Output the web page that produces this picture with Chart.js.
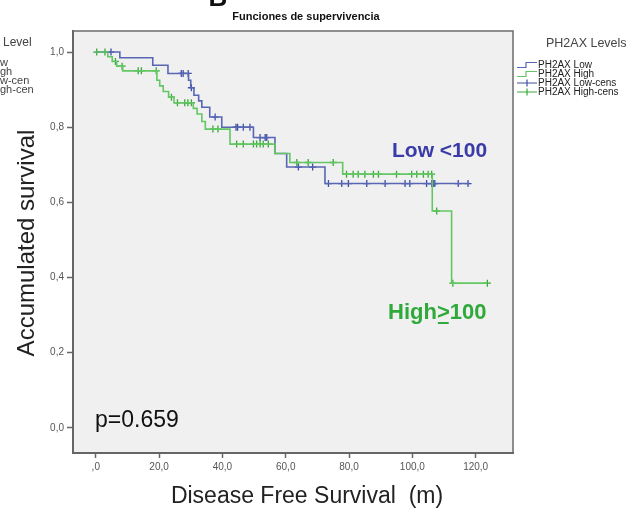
<!DOCTYPE html>
<html>
<head>
<meta charset="utf-8">
<script src="https://cdn.jsdelivr.net/npm/chart.js@4.4.1/dist/chart.umd.min.js"></script>
<style>
  html, body { margin: 0; padding: 0; background: #fff; }
  canvas { display: block; }
</style>
</head>
<body>
<canvas id="kmChart" width="639" height="512"></canvas>
<script>
// Kaplan-Meier steps (time in months, survival)
var lowTimes = [0, 7.6, 18, 22.8, 29.3, 30, 31, 32.5, 33.5, 36, 39.8, 49.8, 56.6, 60.3, 72.4, 118];
var lowSurv  = [1, 0.985, 0.965, 0.943, 0.925, 0.905, 0.885, 0.87, 0.853, 0.827, 0.80, 0.7725, 0.73, 0.694, 0.65, 0.65];
var lowCensTimes = [4.8, 27, 27.6, 29.2, 30.2, 37.7, 44.3, 44.8, 46.6, 48.7, 51.9, 53.5, 54, 64, 68.5, 73.5, 77.7, 79.8, 85.6, 91.4, 97.7, 99.2, 104.5, 106.1, 106.6, 107.1, 114.5, 117.6];

var highTimes = [0, 3.8, 5.2, 6.6, 8.5, 19.3, 20.2, 21.3, 23, 24.7, 30.8, 32, 33.5, 34.6, 42.4, 56.6, 61.3, 78, 106.3, 112.4, 123.7];
var highSurv  = [1, 0.9875, 0.975, 0.9625, 0.95, 0.925, 0.91, 0.895, 0.88, 0.865, 0.85, 0.835, 0.815, 0.795, 0.755, 0.73, 0.706, 0.675, 0.577, 0.385, 0.385];
var highCensTimes = [0.3, 2.9, 6.2, 8.3, 13.4, 14.4, 19.1, 23.9, 25.8, 28.1, 29.1, 30.2, 37, 38.6, 44.5, 46.6, 49.8, 50.8, 51.9, 52.9, 54.5, 63.5, 67.1, 75, 79.2, 81.3, 82.9, 85, 87.7, 89.3, 95, 99.8, 101.4, 103.5, 105, 106.1, 107.7, 112.8, 123.7];

var xTickVals = [0, 20, 40, 60, 80, 100, 120];
var xTickLabels = [',0', '20,0', '40,0', '60,0', '80,0', '100,0', '120,0'];
var yTickVals = [0, 0.2, 0.4, 0.6, 0.8, 1.0];
var yTickLabels = ['0,0', '0,2', '0,4', '0,6', '0,8', '1,0'];

var blueLine = '#5866b4';
var blueMark = '#3f4fa6';
var greenLine = '#63c763';
var greenMark = '#3aa83a';

function stepPoints(times, surv) {
    return times.map(function (t, i) { return {x: t, y: surv[i]}; });
}
// survival value of the curve at a censoring time
function survAt(times, surv, t) {
    var s = surv[0];
    for (var i = 0; i < times.length; i++) {
        if (times[i] <= t) s = surv[i];
    }
    return s;
}
function censPoints(cens, times, surv) {
    return cens.map(function (t) { return {x: t, y: survAt(times, surv, t)}; });
}

var extras = {
    id: 'extras',
    beforeDraw: function (chart) {
        var c = chart.ctx, a = chart.chartArea;
        c.save();
        c.fillStyle = '#f0f0f0';
        c.fillRect(a.left, a.top, a.right - a.left, a.bottom - a.top);
        c.restore();
    },
    afterDraw: function (chart) {
        var c = chart.ctx, a = chart.chartArea;
        c.save();
        // frame
        c.strokeStyle = '#6b6b6b';
        c.lineWidth = 1.5;
        c.strokeRect(a.left, a.top, a.right - a.left, a.bottom - a.top);

        // title
        c.fillStyle = '#111';
        c.textAlign = 'center';
        c.textBaseline = 'middle';
        c.font = 'bold 11px "Liberation Sans", Arial, sans-serif';
        c.fillText('Funciones de supervivencia', 306, 17);

        // panel letter, cut off at the top
        c.font = 'bold 26px "Liberation Sans", Arial, sans-serif';
        c.textBaseline = 'alphabetic';
        c.fillText('B', 218, 6);

        // axis titles
        c.fillStyle = '#222';
        c.textBaseline = 'middle';
        c.font = '23px "Liberation Sans", Arial, sans-serif';
        c.fillText('Disease Free Survival  (m)', 307, 497);
        c.save();
        c.translate(27, 243);
        c.rotate(-Math.PI / 2);
        c.font = '24px "Liberation Sans", Arial, sans-serif';
        c.fillText('Accumulated survival', 0, 0);
        c.restore();

        // annotations
        c.textAlign = 'left';
        c.font = '23px "Liberation Sans", Arial, sans-serif';
        c.fillStyle = '#111';
        c.fillText('p=0.659', 95, 421);

        c.font = 'bold 21px "Liberation Sans", Arial, sans-serif';
        c.fillStyle = '#3a3aa8';
        c.fillText('Low <100', 392, 151);

        c.fillStyle = '#2faa3a';
        c.font = 'bold 22px "Liberation Sans", Arial, sans-serif';
        var hx = 388, hy = 313;
        c.fillText('High', hx, hy);
        hx += c.measureText('High').width;
        c.fillText('>', hx, hy);
        var gw = c.measureText('>').width;
        c.fillRect(hx + 1, hy + 9, gw - 2, 2);
        hx += gw;
        c.fillText('100', hx, hy);

        // right legend
        c.fillStyle = '#444';
        c.font = '12.5px "Liberation Sans", Arial, sans-serif';
        c.fillText('PH2AX Levels', 546, 44);
        var items = [
            {label: 'PH2AX Low', color: blueLine, kind: 'step'},
            {label: 'PH2AX High', color: greenLine, kind: 'step'},
            {label: 'PH2AX Low-cens', color: blueMark, kind: 'cens'},
            {label: 'PH2AX High-cens', color: greenMark, kind: 'cens'}
        ];
        c.font = '10px "Liberation Sans", Arial, sans-serif';
        items.forEach(function (it, i) {
            var y = 65 + i * 9;
            c.strokeStyle = it.color;
            c.lineWidth = 1.2;
            c.beginPath();
            if (it.kind === 'step') {
                c.moveTo(517, y + 2.5);
                c.lineTo(526, y + 2.5);
                c.lineTo(526, y - 2.5);
                c.lineTo(537, y - 2.5);
            } else {
                c.moveTo(517, y);
                c.lineTo(537, y);
                c.moveTo(527, y - 3.5);
                c.lineTo(527, y + 3.5);
            }
            c.stroke();
            c.fillStyle = '#222';
            c.fillText(it.label, 538, y);
        });

        // cut-off legend of the neighbouring panel
        c.fillStyle = '#444';
        c.font = '12px "Liberation Sans", Arial, sans-serif';
        c.fillText('Level', 3, 43);
        c.font = '11px "Liberation Sans", Arial, sans-serif';
        ['w', 'gh', 'w-cen', 'gh-cen'].forEach(function (s, i) {
            c.fillText(s, 0, 63 + i * 9);
        });
        c.restore();
    }
};

var chart = new Chart(document.getElementById('kmChart'), {
    type: 'scatter',
    data: {
        datasets: [{
            label: 'PH2AX High',
            data: stepPoints(highTimes, highSurv),
            showLine: true,
            stepped: 'before',
            borderColor: greenLine,
            borderWidth: 1.6,
            pointRadius: 0
        }, {
            label: 'PH2AX Low',
            data: stepPoints(lowTimes, lowSurv),
            showLine: true,
            stepped: 'before',
            borderColor: blueLine,
            borderWidth: 1.6,
            pointRadius: 0
        }, {
            label: 'PH2AX High-cens',
            data: censPoints(highCensTimes, highTimes, highSurv),
            showLine: false,
            pointStyle: 'cross',
            pointRadius: 3.5,
            borderColor: greenMark,
            borderWidth: 1.3
        }, {
            label: 'PH2AX Low-cens',
            data: censPoints(lowCensTimes, lowTimes, lowSurv),
            showLine: false,
            pointStyle: 'cross',
            pointRadius: 3.5,
            borderColor: blueMark,
            borderWidth: 1.3
        }]
    },
    options: {
        responsive: false,
        animation: false,
        layout: {
            padding: {left: 0, top: 31, right: 126, bottom: 0}
        },
        plugins: {
            legend: {display: false},
            title: {display: false},
            tooltip: {enabled: false}
        },
        scales: {
            x: {
                type: 'linear',
                min: -7.2,
                max: 131.8,
                afterFit: function (s) { s.height = 59; },
                afterBuildTicks: function (s) {
                    s.ticks = xTickVals.map(function (v) { return {value: v}; });
                },
                ticks: {
                    autoSkip: false,
                    maxRotation: 0,
                    padding: 3,
                    color: '#555',
                    font: {size: 10, family: '"Liberation Sans", Arial, sans-serif'},
                    callback: function (v) {
                        var i = xTickVals.indexOf(v);
                        return i >= 0 ? xTickLabels[i] : '';
                    }
                },
                grid: {drawOnChartArea: false, drawTicks: true, tickLength: 5, tickColor: '#666', tickWidth: 1.5},
                border: {display: true, color: '#5a5a5a', width: 2}
            },
            y: {
                type: 'linear',
                min: -0.067,
                max: 1.056,
                afterFit: function (s) { s.width = 73; },
                afterBuildTicks: function (s) {
                    s.ticks = yTickVals.map(function (v) { return {value: v}; });
                },
                ticks: {
                    autoSkip: false,
                    padding: 3,
                    color: '#555',
                    font: {size: 10, family: '"Liberation Sans", Arial, sans-serif'},
                    callback: function (v) {
                        for (var i = 0; i < yTickVals.length; i++) {
                            if (Math.abs(yTickVals[i] - v) < 1e-6) return yTickLabels[i];
                        }
                        return '';
                    }
                },
                grid: {drawOnChartArea: false, drawTicks: true, tickLength: 6, tickColor: '#666', tickWidth: 1.5},
                border: {display: true, color: '#5a5a5a', width: 2}
            }
        }
    },
    plugins: [extras]
});
</script>
</body>
</html>
